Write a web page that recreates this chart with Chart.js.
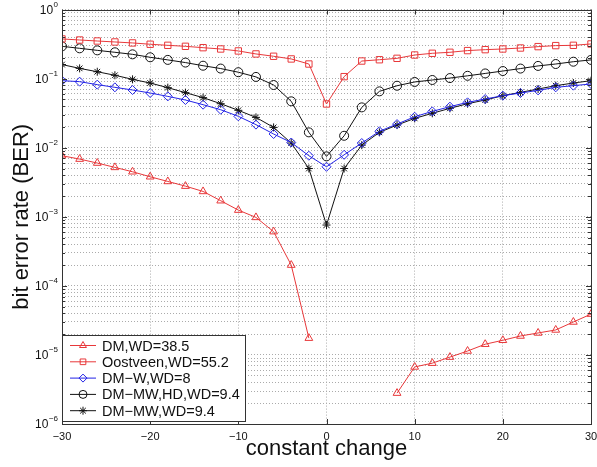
<!DOCTYPE html>
<html lang="en">
<head>
  <meta charset="UTF-8">
  <title>BER vs constant change</title>
  <style>
    html, body { margin: 0; padding: 0; background: #fff; }
    canvas { display: block; }
  </style>
</head>
<body>
  <canvas id="berChart" width="597" height="467"></canvas>

  <script src="https://cdn.jsdelivr.net/npm/chart.js@4.4.0/dist/chart.umd.min.js"></script>
  <script>
    // x positions (constant change) shared by all curves
    const xValues = [-30, -28, -26, -24, -22, -20, -18, -16, -14, -12, -10, -8, -6, -4, -2, 0,
                     2, 4, 6, 8, 10, 12, 14, 16, 18, 20, 22, 24, 26, 28, 30];

    // BER
    const dm = [0.00766, 0.00685, 0.0060, 0.00519, 0.00449, 0.0038, 0.00325, 0.00278, 0.00233, 0.00171,
                0.00125, 0.00098, 0.00061, 0.0002, 1.75e-5, null, null, null, null, 2.8e-6,
                6.7e-6, 7.6e-6, 9.3e-6, 1.14e-5, 1.43e-5, 1.63e-5, 1.88e-5, 2.08e-5, 2.3e-5, 3.0e-5, 3.9e-5];
    const oostveen = [0.376, 0.363, 0.351, 0.340, 0.329, 0.315, 0.304, 0.294, 0.281, 0.269,
                      0.252, 0.228, 0.211, 0.193, 0.163, 0.043, 0.107, 0.180, 0.188, 0.197,
                      0.220, 0.233, 0.241, 0.255, 0.263, 0.269, 0.278, 0.291, 0.301, 0.304, 0.318];
    const dmW = [0.0935, 0.0905, 0.0819, 0.0749, 0.0685, 0.0620, 0.0554, 0.0491, 0.0420, 0.0355,
                 0.0285, 0.0216, 0.0158, 0.0119, 0.00766, 0.0053, 0.0079, 0.0117, 0.0173, 0.0220,
                 0.0281, 0.0336, 0.0393, 0.0454, 0.0507, 0.0567, 0.062, 0.0677, 0.0749, 0.0792, 0.0838];
    const dmMwHd = [0.294, 0.275, 0.257, 0.241, 0.225, 0.204, 0.187, 0.171, 0.154, 0.140,
                    0.124, 0.106, 0.081, 0.047, 0.0167, 0.0075, 0.0149, 0.0384, 0.0655, 0.079,
                    0.0896, 0.0957, 0.102, 0.110, 0.119, 0.129, 0.140, 0.153, 0.163, 0.176, 0.187];
    const dmMw = [0.160, 0.141, 0.126, 0.112, 0.0978, 0.0865, 0.0741, 0.0627, 0.0531, 0.0434,
                  0.0348, 0.0275, 0.0197, 0.0117, 0.0050, 0.00076, 0.0050, 0.0109, 0.0167, 0.0213,
                  0.0266, 0.0315, 0.0372, 0.0434, 0.0491, 0.0567, 0.0633, 0.0708, 0.0792, 0.0865, 0.0935];

    const xTicks = [-30, -20, -10, 0, 10, 20, 30];
    const yDecades = [1e-6, 1e-5, 1e-4, 1e-3, 1e-2, 1e-1, 1];
    const yExponents = ['\u22126', '\u22125', '\u22124', '\u22123', '\u22122', '\u22121', '0'];

    const RED = '#e8383a';
    const BLUE = '#2323e6';
    const BLACK = '#111';
    const FONT = 'Liberation Sans, Arial, sans-serif';

    function series(label, values, color, style) {
      return {
        label: label,
        data: xValues.map((x, i) => ({ x: x, y: values[i] })),
        borderColor: color,
        backgroundColor: 'rgba(0,0,0,0)',
        borderWidth: 1,
        pointStyle: style,
        pointRadius: style === 'star' ? 4 : 4.5,
        pointBorderColor: color,
        pointBackgroundColor: 'rgba(0,0,0,0)',
        pointBorderWidth: 1,
        spanGaps: false,
        tension: 0
      };
    }

    // all gridline values for the log axis (1..9 in each decade)
    const yGrid = [];
    for (let e = -6; e < 0; e++) {
      for (let m = 1; m < 10; m++) yGrid.push(m * Math.pow(10, e));
    }
    yGrid.push(1);

    const isDecade = v => yDecades.some(d => Math.abs(v - d) / d < 1e-6);

    // inward tick marks, full axes box and 10^n labels
    const boxPlugin = {
      id: 'box',
      afterDraw(chart) {
        const { ctx, chartArea: a, scales } = chart;
        ctx.save();
        ctx.strokeStyle = '#333';
        ctx.lineWidth = 1;
        ctx.beginPath();
        xTicks.forEach(v => {
          const px = Math.round(scales.x.getPixelForValue(v)) + 0.5;
          ctx.moveTo(px, a.bottom); ctx.lineTo(px, a.bottom - 5);
          ctx.moveTo(px, a.top); ctx.lineTo(px, a.top + 5);
        });
        yGrid.forEach(v => {
          const py = Math.round(scales.y.getPixelForValue(v)) + 0.5;
          const len = isDecade(v) ? 5 : 3;
          ctx.moveTo(a.left, py); ctx.lineTo(a.left + len, py);
          ctx.moveTo(a.right, py); ctx.lineTo(a.right - len, py);
        });
        ctx.stroke();
        ctx.strokeRect(Math.round(a.left) + 0.5, Math.round(a.top) + 0.5,
                       Math.round(a.right - a.left), Math.round(a.bottom - a.top));

        ctx.fillStyle = '#111';
        ctx.textBaseline = 'middle';
        ctx.textAlign = 'left';
        yDecades.forEach((d, i) => {
          const py = scales.y.getPixelForValue(d);
          const right = a.left - 4;
          ctx.font = '8px ' + FONT;
          const ew = ctx.measureText(yExponents[i]).width;
          ctx.fillText(yExponents[i], right - ew, py - 5);
          ctx.font = '12px ' + FONT;
          const tw = ctx.measureText('10').width;
          ctx.fillText('10', right - ew - tw - 0.5, py + 1);
        });
        ctx.restore();
      }
    };

    // legend box in the lower-left corner of the plot
    const legendPlugin = {
      id: 'cornerLegend',
      afterDraw(chart) {
        const { ctx, chartArea: a } = chart;
        const x0 = Math.round(a.left), y1 = Math.round(a.bottom) - 3, w = 183, h = 86, y0 = y1 - h;
        ctx.save();
        ctx.fillStyle = '#fff';
        ctx.fillRect(x0 + 0.5, y0 + 0.5, w, h);
        ctx.strokeStyle = '#333';
        ctx.lineWidth = 1;
        ctx.strokeRect(x0 + 0.5, y0 + 0.5, w, h);
        ctx.font = '14.5px ' + FONT;
        ctx.textBaseline = 'middle';
        chart.data.datasets.forEach((ds, k) => {
          const cy = y0 + 10.5 + k * 16.3;
          ctx.strokeStyle = ds.borderColor;
          ctx.beginPath();
          ctx.moveTo(x0 + 8, cy); ctx.lineTo(x0 + 34, cy);
          ctx.stroke();
          ctx.fillStyle = 'rgba(0,0,0,0)';
          Chart.helpers.drawPoint(ctx, {
            pointStyle: ds.pointStyle, radius: 4, rotation: 0, borderWidth: 1
          }, x0 + 21, cy);
          ctx.fillStyle = '#111';
          ctx.fillText(ds.label, x0 + 40, cy + 1);
        });
        ctx.restore();
      }
    };

    const ctx = document.getElementById('berChart').getContext('2d');

    new Chart(ctx, {
      type: 'line',
      data: {
        datasets: [
          series('DM,WD=38.5', dm, RED, 'triangle'),
          series('Oostveen,WD=55.2', oostveen, RED, 'rect'),
          series('DM\u2212W,WD=8', dmW, BLUE, 'rectRot'),
          series('DM\u2212MW,HD,WD=9.4', dmMwHd, BLACK, 'circle'),
          series('DM\u2212MW,WD=9.4', dmMw, BLACK, 'star')
        ]
      },
      options: {
        responsive: false,
        animation: false,
        layout: { padding: { left: 0, right: 0, top: 9, bottom: 0 } },
        plugins: {
          legend: { display: false },
          tooltip: { enabled: false }
        },
        scales: {
          x: {
            type: 'linear',
            min: -30,
            max: 30,
            afterBuildTicks: s => { s.ticks = xTicks.map(v => ({ value: v })); },
            afterFit: s => { s.height = 43; s.paddingLeft = 0; s.paddingRight = 6; },
            ticks: {
              color: '#111',
              font: { family: FONT, size: 11 },
              padding: 6,
              maxRotation: 0,
              callback: v => (v < 0 ? '\u2212' + Math.abs(v) : String(v))
            },
            grid: { color: '#ababab', lineWidth: 1, drawTicks: false },
            border: { display: false, dash: [1, 2] },
            title: {
              display: true,
              text: 'constant change',
              color: '#111',
              font: { family: FONT, size: 22 },
              padding: { top: 0, bottom: 5 }
            }
          },
          y: {
            type: 'logarithmic',
            min: 1e-6,
            max: 1,
            afterBuildTicks: s => { s.ticks = yGrid.map(v => ({ value: v })); },
            afterFit: s => { s.width = 62; },
            ticks: {
              autoSkip: false,
              font: { family: FONT, size: 11 },
              callback: () => ''
            },
            grid: { color: '#ababab', lineWidth: 1, drawTicks: false },
            border: { display: false, dash: [1, 2] },
            title: {
              display: true,
              text: 'bit error rate (BER)',
              color: '#111',
              font: { family: FONT, size: 22 },
              padding: { top: 9, bottom: 0 }
            }
          }
        }
      },
      plugins: [boxPlugin, legendPlugin]
    });
  </script>
</body>
</html>
